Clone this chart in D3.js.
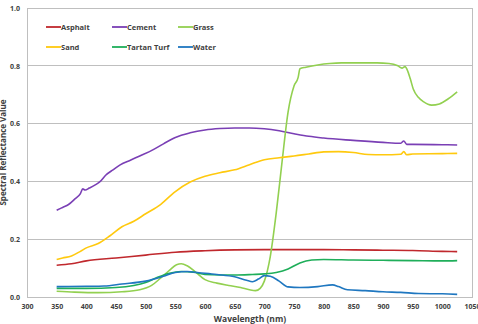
<!DOCTYPE html>
<html>
<head>
<meta charset="utf-8">
<script src="https://cdn.jsdelivr.net/npm/d3@7"></script>
<style>
  body { margin: 0; background: #fff; }
  text { font-family: "Open Sans", "DejaVu Sans", sans-serif; font-weight: 700; fill: #404040; }
</style>
</head>
<body>
<div id="chart"></div>
<script>
// series names and colours (legend order)
const seriesNames = ["Asphalt", "Cement", "Grass", "Sand", "Tartan Turf", "Water"];
const seriesColors = ["#c0282d", "#7a3fb5", "#92d050", "#ffc90e", "#1fae5a", "#1f77c0"];

// [wavelength nm, reflectance]
const asphalt = [[350,0.110],[375,0.115],[400,0.125],[450,0.135],[500,0.145],[550,0.155],[600,0.160],[650,0.163],[700,0.164],[750,0.164],[800,0.164],[850,0.163],[900,0.162],[950,0.161],[1000,0.158],[1025,0.157]];
const cement = [[350,0.300],[360,0.310],[370,0.320],[380,0.338],[390,0.358],[394,0.374],[398,0.370],[405,0.377],[415,0.388],[423,0.399],[433,0.422],[445,0.440],[457,0.457],[475,0.474],[490,0.488],[512,0.509],[530,0.530],[550,0.552],[575,0.568],[600,0.578],[625,0.583],[650,0.585],[675,0.585],[700,0.582],[725,0.575],[750,0.565],[775,0.556],[800,0.550],[850,0.542],[900,0.535],[930,0.532],[935,0.540],[940,0.528],[950,0.528],[1000,0.527],[1025,0.526]];
const grass = [[350,0.020],[380,0.017],[420,0.015],[460,0.018],[490,0.025],[510,0.040],[525,0.065],[540,0.092],[552,0.112],[560,0.115],[570,0.108],[585,0.085],[600,0.060],[620,0.048],[640,0.040],[660,0.033],[675,0.025],[685,0.022],[693,0.030],[700,0.055],[710,0.140],[720,0.290],[730,0.470],[740,0.640],[750,0.730],[757,0.760],[760,0.790],[770,0.795],[790,0.803],[810,0.808],[830,0.810],[860,0.810],[890,0.810],[910,0.808],[925,0.800],[932,0.792],[937,0.797],[942,0.780],[946,0.755],[951,0.720],[960,0.690],[968,0.676],[982,0.664],[995,0.668],[1010,0.686],[1025,0.710]];
const sand = [[350,0.130],[360,0.135],[375,0.142],[390,0.158],[400,0.170],[420,0.185],[440,0.212],[460,0.243],[480,0.262],[500,0.288],[525,0.320],[550,0.365],[575,0.398],[600,0.418],[625,0.430],[650,0.440],[675,0.458],[700,0.475],[725,0.482],[750,0.488],[775,0.495],[800,0.502],[825,0.503],[850,0.500],[875,0.493],[900,0.492],[930,0.494],[935,0.503],[940,0.492],[950,0.495],[1000,0.496],[1025,0.497]];
const tartan = [[350,0.030],[400,0.030],[450,0.033],[480,0.040],[500,0.050],[520,0.068],[540,0.082],[560,0.088],[580,0.086],[600,0.078],[650,0.076],[680,0.078],[700,0.080],[720,0.085],[740,0.097],[760,0.118],[780,0.128],[800,0.130],[850,0.128],[900,0.127],[950,0.126],[1000,0.125],[1025,0.126]];
const water = [[350,0.036],[400,0.037],[430,0.038],[460,0.045],[500,0.055],[530,0.072],[550,0.085],[570,0.088],[590,0.084],[620,0.078],[650,0.070],[670,0.058],[680,0.053],[690,0.062],[700,0.074],[710,0.072],[725,0.055],[740,0.035],[760,0.033],[790,0.036],[815,0.042],[825,0.036],[840,0.025],[870,0.022],[900,0.018],[930,0.016],[960,0.012],[1000,0.011],[1025,0.009]];

const seriesData = [asphalt, cement, grass, sand, tartan, water];

const xTicks = [300, 350, 400, 450, 500, 550, 600, 650, 700, 750, 800, 850, 900, 950, 1000, 1050];
const yTicks = [0, 0.2, 0.4, 0.6, 0.8, 1.0];

const width = 478, height = 324;
const margin = {top: 8, right: 6, bottom: 27, left: 27};

const svg = d3.select("#chart").append("svg")
  .attr("width", width)
  .attr("height", height);

const x = d3.scaleLinear().domain([300, 1050]).range([margin.left, width - margin.right]);
const y = d3.scaleLinear().domain([0, 1]).range([height - margin.bottom, margin.top]);

// gridlines
svg.append("g")
  .selectAll("line")
  .data(yTicks.filter(d => d > 0))
  .join("line")
  .attr("x1", margin.left).attr("x2", width - margin.right)
  .attr("y1", d => y(d)).attr("y2", d => y(d))
  .attr("stroke", "#bfbfbf").attr("stroke-width", 1)
  .attr("shape-rendering", "crispEdges");

// right frame line
svg.append("line")
  .attr("x1", width - margin.right).attr("x2", width - margin.right)
  .attr("y1", margin.top).attr("y2", y(0))
  .attr("stroke", "#bfbfbf").attr("shape-rendering", "crispEdges");

// axes
const xAxis = svg.append("g")
  .attr("transform", `translate(0,${y(0)})`)
  .call(d3.axisBottom(x).tickValues(xTicks).tickSize(0).tickPadding(7).tickFormat(d3.format("d")));
const yAxis = svg.append("g")
  .attr("transform", `translate(${margin.left},0)`)
  .call(d3.axisLeft(y).tickValues(yTicks).tickSize(0).tickPadding(7).tickFormat(d3.format(".1f")));
[xAxis, yAxis].forEach(a => {
  a.select(".domain").attr("stroke", "#bfbfbf").attr("shape-rendering", "crispEdges");
  a.selectAll("text").attr("font-size", 7).attr("fill", "#404040")
    .attr("font-family", "\"Open Sans\", sans-serif").attr("font-weight", 700);
});

// series lines
const line = d3.line().x(d => x(d[0])).y(d => y(d[1])).curve(d3.curveMonotoneX);
svg.append("g")
  .selectAll("path")
  .data(seriesData)
  .join("path")
  .attr("d", line)
  .attr("fill", "none")
  .attr("stroke", (d, i) => seriesColors[i])
  .attr("stroke-width", 1.6)
  .attr("stroke-linejoin", "round");

// legend
const legendX = [46, 112, 178];
const legendY = [27, 47];
const legend = svg.append("g")
  .selectAll("g")
  .data(seriesNames)
  .join("g")
  .attr("transform", (d, i) => `translate(${legendX[i % 3]},${legendY[Math.floor(i / 3)]})`);
legend.append("line")
  .attr("x1", 0).attr("x2", 15)
  .attr("stroke", (d, i) => seriesColors[i]).attr("stroke-width", 1.8);
legend.append("text")
  .attr("x", 15).attr("dy", "0.35em")
  .attr("font-size", 7.5)
  .text(d => d);

// axis titles
svg.append("text")
  .attr("x", 250).attr("y", 322)
  .attr("text-anchor", "middle")
  .attr("font-size", 8.5)
  .text("Wavelength (nm)");
svg.append("text")
  .attr("transform", `translate(6,${(margin.top + y(0)) / 2}) rotate(-90)`)
  .attr("text-anchor", "middle")
  .attr("font-size", 8)
  .text("Spectral Reflectance Value");
</script>
</body>
</html>
